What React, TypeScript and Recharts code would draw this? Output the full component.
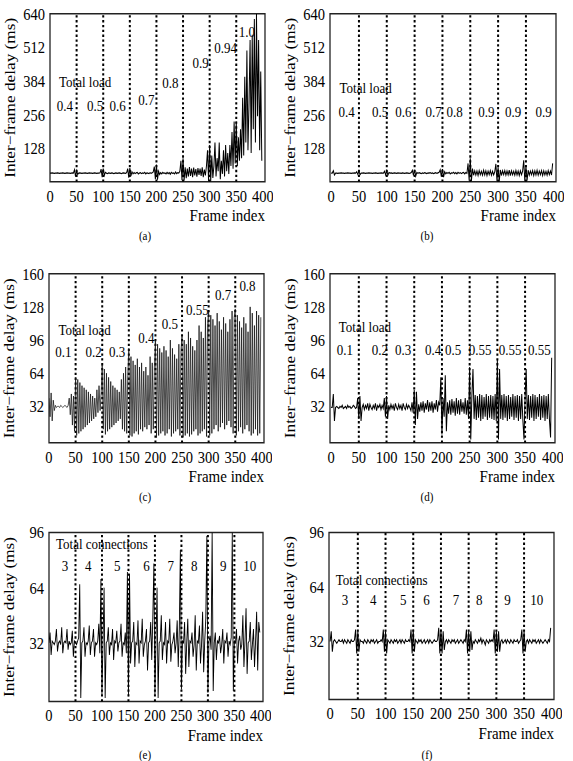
import React from "react";
import {
  LineChart,
  Line,
  XAxis,
  YAxis,
  ReferenceLine,
  ReferenceArea,
  ReferenceDot,
} from "recharts";

const FONT = '"Liberation Serif", "Times New Roman", serif';
// the printed figure is a little taller than wide, so everything is drawn
// in a squeezed space and stretched back with a CSS scale
const STRETCH = 1.15;
const FRAME_STEP = 2;

const frameTicks = [0, 50, 100, 150, 200, 250, 300, 350, 400];
const loadSwitches = [50, 100, 150, 200, 250, 300, 350];
const ticksBig = [128, 256, 384, 512, 640];
const ticksMid = [32, 64, 96, 128, 160];
const ticksSmall = [32, 64, 96];

// inter-frame delay (ms), one value every 2nd frame, one row per 50 frames
const delayA = [
  33, 33, 34, 33, 32, 33, 33, 34, 33, 32, 33, 33, 34, 33, 32, 33, 34, 33, 33, 32, 33, 34, 33, 46, 20,
  42, 28, 33, 34, 33, 32, 33, 33, 34, 33, 32, 33, 34, 33, 33, 32, 33, 34, 33, 32, 33, 33, 34, 48, 18,
  50, 24, 36, 33, 31, 34, 33, 32, 34, 33, 31, 33, 34, 32, 33, 34, 33, 31, 33, 34, 33, 32, 35, 50, 16,
  52, 22, 38, 30, 35, 31, 34, 36, 30, 33, 35, 31, 34, 32, 36, 30, 34, 33, 31, 35, 32, 34, 38, 58, 10,
  66, 8, 40, 28, 35, 30, 36, 32, 34, 30, 36, 31, 35, 29, 36, 32, 34, 30, 37, 31, 35, 33, 40, 80, 6,
  90, 4, 55, 14, 50, 20, 56, 22, 50, 18, 54, 24, 48, 20, 52, 26, 50, 22, 55, 18, 46, 24, 60, 120, 2,
  140, 2, 100, 15, 60, 150, 20, 90, 40, 150, 10, 80, 30, 120, 20, 140, 40, 110, 30, 140, 60, 190, 50, 230, 70,
  230, 60, 170, 80, 200, 90, 320, 100, 400, 150, 500, 120, 300, 540, 110, 560, 200, 620, 150, 640, 250, 540, 120, 420, 80,
];

const delayB = [
  33, 33, 42, 26, 33, 33, 32, 33, 33, 34, 33, 33, 32, 33, 33, 34, 33, 33, 32, 33, 33, 34, 33, 38, 28,
  40, 27, 33, 33, 34, 33, 32, 33, 33, 34, 33, 33, 32, 33, 33, 34, 33, 32, 33, 33, 34, 33, 33, 40, 26,
  42, 25, 35, 33, 34, 32, 33, 34, 33, 32, 34, 33, 33, 32, 34, 33, 32, 33, 34, 33, 32, 33, 35, 44, 24,
  45, 22, 36, 32, 35, 33, 31, 34, 32, 35, 33, 31, 34, 33, 35, 32, 34, 31, 33, 35, 32, 34, 36, 46, 20,
  48, 18, 38, 30, 35, 32, 36, 30, 34, 33, 36, 31, 35, 30, 36, 32, 35, 31, 34, 36, 30, 35, 32, 70, 4,
  90, 2, 50, 25, 42, 26, 41, 24, 43, 27, 40, 25, 44, 26, 42, 24, 41, 27, 43, 25, 40, 26, 38, 68, 2,
  55, 0, 45, 24, 42, 27, 43, 25, 41, 26, 44, 24, 42, 27, 40, 25, 43, 26, 41, 24, 42, 27, 40, 82, 2,
  60, 4, 44, 25, 41, 27, 43, 24, 42, 26, 44, 25, 41, 27, 43, 24, 42, 26, 40, 25, 43, 27, 41, 26, 70,
];

const delayC = [
  40, 22, 45, 18, 38, 28, 33, 31, 32, 32, 31, 33, 32, 31, 32, 33, 32, 31, 33, 40, 24, 44, 14, 42, 8,
  60, 4, 58, 6, 55, 8, 52, 10, 50, 12, 48, 14, 46, 16, 44, 18, 42, 20, 40, 22, 48, 26, 52, 28, 45,
  72, 10, 68, 5, 64, 8, 60, 10, 56, 12, 52, 14, 50, 16, 48, 18, 46, 20, 58, 10, 64, 8, 70, 6, 62,
  88, 4, 80, 3, 76, 6, 72, 8, 78, 5, 70, 10, 74, 8, 66, 12, 70, 10, 62, 14, 80, 6, 74, 10, 70,
  96, 2, 92, 4, 88, 6, 84, 8, 90, 4, 86, 6, 80, 10, 96, 3, 88, 6, 82, 8, 78, 10, 92, 4, 86,
  100, 2, 96, 4, 92, 6, 104, 3, 98, 5, 90, 8, 86, 10, 96, 4, 110, 6, 104, 8, 98, 10, 118, 3, 112,
  124, 4, 120, 6, 116, 10, 110, 14, 122, 8, 114, 12, 106, 16, 118, 10, 112, 14, 104, 18, 116, 12, 124, 6, 118,
  126, 4, 120, 8, 114, 12, 108, 6, 118, 10, 112, 14, 104, 8, 128, 4, 122, 6, 110, 10, 124, 4, 120, 6, 118,
];

const delayD = [
  31, 31, 44, 18, 31, 32, 31, 30, 32, 31, 33, 30, 31, 32, 30, 33, 31, 32, 30, 31, 33, 32, 30, 31, 40,
  20, 42, 18, 31, 34, 29, 33, 30, 35, 28, 34, 31, 29, 33, 30, 35, 28, 33, 31, 34, 29, 33, 30, 40, 22,
  42, 20, 33, 29, 34, 30, 33, 28, 35, 31, 29, 34, 30, 33, 28, 35, 31, 29, 34, 30, 33, 31, 28, 36, 26,
  48, 14, 46, 20, 34, 27, 36, 28, 37, 26, 35, 29, 38, 27, 36, 28, 37, 26, 35, 29, 38, 27, 36, 33, 60,
  5, 40, 22, 62, 8, 36, 25, 38, 24, 39, 26, 37, 23, 40, 25, 38, 24, 39, 27, 36, 25, 40, 24, 38, 20,
  70, 0, 42, 68, 20, 43, 19, 42, 21, 44, 18, 43, 20, 41, 22, 44, 19, 42, 21, 43, 20, 42, 19, 44, 18,
  77, 0, 68, 20, 43, 19, 44, 21, 42, 18, 43, 20, 41, 22, 44, 19, 42, 21, 43, 18, 42, 20, 44, 19, 0,
  40, 68, 20, 43, 19, 42, 21, 44, 18, 43, 20, 41, 22, 44, 19, 42, 21, 43, 18, 42, 20, 44, 19, 2, 79,
];

const delayE = [
  32, 38, 25, 33, 32, 31, 33, 40, 27, 32, 33, 31, 41, 26, 32, 33, 32, 40, 28, 33, 31, 32, 39, 24, 33,
  32, 31, 33, 35, 66, 0, 32, 33, 41, 24, 32, 31, 33, 42, 25, 32, 33, 40, 24, 32, 31, 33, 43, 26, 69,
  2, 33, 64, 0, 32, 33, 41, 25, 32, 31, 40, 22, 33, 32, 39, 27, 32, 33, 43, 24, 32, 31, 38, 26, 73,
  1, 72, 20, 32, 33, 44, 18, 32, 31, 45, 20, 33, 32, 46, 24, 31, 33, 40, 16, 32, 33, 44, 22, 47, 78,
  2, 33, 64, 0, 32, 33, 48, 22, 32, 31, 44, 20, 33, 32, 46, 21, 31, 33, 38, 26, 32, 45, 18, 40, 86,
  5, 33, 32, 44, 14, 32, 46, 18, 33, 32, 38, 24, 31, 48, 16, 33, 32, 42, 20, 31, 50, 15, 33, 46, 94,
  3, 33, 36, 28, 96, 4, 32, 38, 22, 33, 32, 36, 26, 31, 40, 20, 33, 32, 38, 24, 33, 31, 35, 96, 4,
  33, 32, 40, 20, 33, 36, 28, 31, 48, 18, 33, 52, 14, 32, 33, 44, 22, 31, 40, 18, 33, 50, 16, 44, 38,
];

const delayF = [
  32, 38, 26, 32, 33, 32, 31, 32, 33, 32, 32, 33, 31, 33, 32, 31, 33, 32, 31, 33, 32, 32, 33, 39, 25,
  38, 26, 33, 32, 32, 31, 33, 32, 31, 33, 32, 31, 33, 32, 33, 31, 32, 33, 31, 32, 32, 33, 32, 39, 26,
  38, 25, 33, 32, 31, 33, 32, 31, 33, 32, 33, 31, 32, 33, 31, 33, 32, 31, 33, 32, 32, 33, 32, 39, 25,
  39, 26, 33, 32, 31, 33, 32, 33, 31, 32, 33, 31, 32, 33, 31, 33, 32, 31, 32, 33, 32, 32, 33, 40, 25,
  39, 25, 38, 27, 32, 33, 31, 33, 32, 31, 33, 32, 33, 31, 32, 33, 31, 32, 33, 32, 31, 33, 32, 39, 25,
  38, 26, 38, 27, 32, 31, 33, 32, 31, 33, 32, 34, 31, 33, 32, 30, 33, 32, 31, 33, 32, 33, 32, 39, 25,
  38, 26, 38, 26, 32, 33, 31, 32, 33, 31, 33, 32, 31, 33, 32, 31, 33, 32, 32, 33, 31, 32, 33, 39, 25,
  38, 26, 32, 33, 31, 33, 32, 31, 33, 32, 33, 31, 32, 33, 31, 33, 32, 31, 32, 33, 32, 31, 33, 32, 40,
];

const notesA = ["Total load", "0.4", "0.5", "0.6", "0.7", "0.8", "0.9", "0.94", "1.0"];
const notesB = ["Total load", "0.4", "0.5", "0.6", "0.7", "0.8", "0.9", "0.9", "0.9"];
const notesC = ["Total load", "0.1", "0.2", "0.3", "0.4", "0.5", "0.55", "0.7", "0.8"];
const notesD = ["Total load", "0.1", "0.2", "0.3", "0.4", "0.5", "0.55", "0.55", "0.55"];
const notesConn = ["Total connections", "3", "4", "5", "6", "7", "8", "9", "10"];

// where each note sits, as [frame, delay]
const spotsA = [[66, 381], [28, 290], [85, 290], [127, 290], [181, 312], [226, 377], [283, 453], [330, 510], [370, 571]];
const spotsB = [[62, 358], [28, 267], [88, 267], [130, 267], [184, 267], [222, 267], [279, 267], [327, 267], [382, 267]];
const spotsC = [[67, 106], [27, 85], [84, 85], [128, 85], [183, 98], [227, 112], [279, 125], [327, 140], [373, 148]];
const spotsD = [[61, 109], [25, 87], [88, 87], [130, 87], [184, 87], [220, 87], [269, 87], [323, 87], [376, 87]];
const spotsE = [[100, 89.6], [30, 76.5], [74, 76.5], [129, 76.5], [184, 76.5], [230, 76.5], [274, 76.5], [329, 76.5], [379, 76.5]];
const spotsF = [[93, 68.4], [27, 56.7], [78, 56.7], [132, 56.7], [174, 56.7], [227, 56.7], [269, 56.7], [320, 56.7], [373, 56.7]];

type Box = { left: number; right: number; top: number; bottom: number };

type PanelProps = {
  values: number[];
  box: Box;
  xDomain: [number, number];
  yDomain: [number, number];
  yTicks: number[];
  notes: string[];
  spots: number[][];
  lineWidth?: number;
  lineColor?: string;
};

const YW = 50;
const MT = 8;
const MR = 8;
const XH = 34;

function Panel({ values, box, xDomain, yDomain, yTicks, notes, spots, lineWidth = 1, lineColor = "#000" }: PanelProps) {
  const plotW = box.right - box.left;
  const plotH = (box.bottom - box.top) / STRETCH;
  const data = values.map((v, i) => ({ frame: i * FRAME_STEP, delay: v }));

  return (
    <div style={{ position: "absolute", left: box.left - YW, top: box.top / STRETCH - MT }}>
      <LineChart
        width={YW + plotW + MR}
        height={MT + plotH + XH + 2}
        data={data}
        margin={{ top: MT, right: MR, bottom: 2, left: 0 }}
      >
        <XAxis
          dataKey="frame"
          type="number"
          domain={xDomain}
          allowDataOverflow
          ticks={frameTicks}
          interval={0}
          axisLine={false}
          tickLine={false}
          tickSize={0}
          tickMargin={7}
          height={XH}
          tick={{ fontSize: 14.5, fill: "#000" }}
          label={{ value: "Frame index", position: "insideBottomRight", offset: 0, fontSize: 15, fill: "#000" }}
        />
        <YAxis
          type="number"
          domain={yDomain}
          allowDataOverflow
          ticks={yTicks}
          interval={0}
          axisLine={false}
          tickLine={false}
          tickSize={0}
          tickMargin={5}
          width={YW}
          tick={{ fontSize: 14.5, fill: "#000" }}
          label={{
            value: "Inter\u2212frame delay (ms)",
            angle: -90,
            position: "insideLeft",
            offset: 10,
            fontSize: 15,
            fill: "#000",
            style: { textAnchor: "middle" },
          }}
        />
        <ReferenceArea
          x1={xDomain[0]}
          x2={xDomain[1]}
          y1={yDomain[0]}
          y2={yDomain[1]}
          fill="none"
          stroke="#222"
          strokeWidth={1.3}
        />
        {loadSwitches.map((x) => (
          <ReferenceLine key={x} x={x} stroke="#000" strokeWidth={2} strokeDasharray="2 2.2" />
        ))}
        <Line
          type="linear"
          dataKey="delay"
          stroke={lineColor}
          strokeWidth={lineWidth}
          dot={false}
          isAnimationActive={false}
        />
        {notes.map((t, i) => (
          <ReferenceDot
            key={i}
            x={spots[i][0]}
            y={spots[i][1]}
            r={0}
            fill="none"
            stroke="none"
            label={{ value: t, position: "center", fontSize: 13, fill: "#000" }}
          />
        ))}
      </LineChart>
    </div>
  );
}

const captions = [
  { text: "(a)", x: 145, y: 236 },
  { text: "(b)", x: 427, y: 236 },
  { text: "(c)", x: 145, y: 497 },
  { text: "(d)", x: 427, y: 497 },
  { text: "(e)", x: 145, y: 754 },
  { text: "(f)", x: 427, y: 754 },
];

export default function App() {
  return (
    <div
      style={{
        position: "absolute",
        left: 0,
        top: 0,
        width: 573,
        height: 761,
        background: "#fff",
        overflow: "hidden",
        fontFamily: FONT,
      }}
    >
      <div
        style={{
          position: "absolute",
          left: 0,
          top: 0,
          width: 573,
          height: 761 / STRETCH,
          transform: `scaleY(${STRETCH})`,
          transformOrigin: "0 0",
        }}
      >
        <Panel values={delayA} box={{ left: 50, right: 265, top: 14, bottom: 182 }} xDomain={[0, 404]} yDomain={[0, 640]} yTicks={ticksBig} notes={notesA} spots={spotsA} />
        <Panel values={delayB} box={{ left: 330, right: 556, top: 14, bottom: 182 }} xDomain={[-2, 404]} yDomain={[0, 640]} yTicks={ticksBig} notes={notesB} spots={spotsB} />
        <Panel values={delayC} box={{ left: 49, right: 264, top: 274, bottom: 443 }} xDomain={[0, 404]} yDomain={[-3, 160]} yTicks={ticksMid} notes={notesC} spots={spotsC} lineWidth={0.7} lineColor="#111" />
        <Panel values={delayD} box={{ left: 330, right: 555, top: 274, bottom: 443 }} xDomain={[-2, 404]} yDomain={[-3, 160]} yTicks={ticksMid} notes={notesD} spots={spotsD} />
        <Panel values={delayE} box={{ left: 49, right: 263, top: 533, bottom: 702 }} xDomain={[0, 404]} yDomain={[-2, 96]} yTicks={ticksSmall} notes={notesConn} spots={spotsE} lineWidth={0.9} />
        <Panel values={delayF} box={{ left: 329, right: 554, top: 533, bottom: 700 }} xDomain={[-2, 404]} yDomain={[-2, 96]} yTicks={ticksSmall} notes={notesConn} spots={spotsF} />
        {captions.map((c) => (
          <div
            key={c.text}
            style={{
              position: "absolute",
              left: c.x - 20,
              top: c.y / STRETCH - 7,
              width: 40,
              textAlign: "center",
              fontSize: 11,
              lineHeight: "14px",
            }}
          >
            {c.text}
          </div>
        ))}
      </div>
    </div>
  );
}
